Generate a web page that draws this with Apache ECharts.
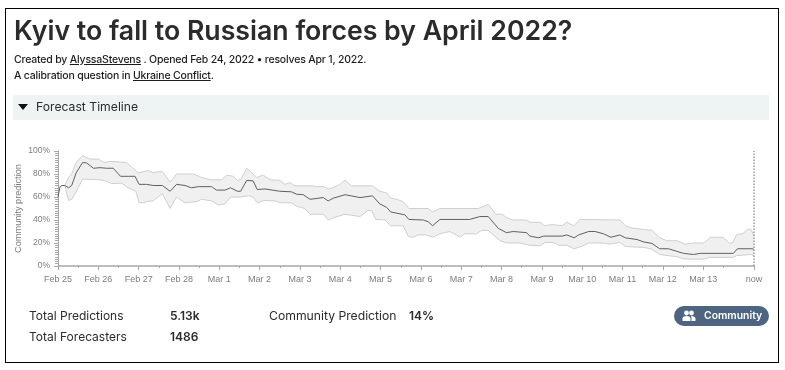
<!DOCTYPE html>
<html>
<head>
<meta charset="utf-8">
<script src="https://cdn.jsdelivr.net/npm/echarts@6/dist/echarts.min.js"></script>
<style>
html, body { margin: 0; padding: 0; background: #fff; }
body { width: 785px; height: 370px; overflow: hidden; position: relative; font-family: Inter, sans-serif; color: #2b2b2b; }
#frame { position: absolute; left: 5px; top: 8px; width: 772px; height: 353px; border: 1.5px solid #000; }
#chart-container { position: absolute; left: 0; top: 0; width: 785px; height: 370px; }
.t { position: absolute; white-space: nowrap; }
h1 { position: absolute; left: 14px; top: 13px; margin: 0; font-size: 26.7px; line-height: 34px; font-weight: 600; white-space: nowrap; }
#bar { position: absolute; left: 13px; top: 95px; width: 756px; height: 25px; background: #eef3f3; }
#tri { position: absolute; left: 18px; top: 104px; width: 0; height: 0; border-left: 5.5px solid transparent; border-right: 5.5px solid transparent; border-top: 6px solid #111; }
#pill { position: absolute; left: 674px; top: 306px; width: 95px; height: 20px; border-radius: 10px; background: #4d6580; color: #fff; font-size: 10.4px; font-weight: 600; line-height: 20px; }
</style>
</head>
<body>
<div id="frame"></div>
<div id="bar"></div>
<div id="tri"></div>
<div id="chart-container"></div>
<h1>Kyiv to fall to Russian forces by April 2022?</h1>
<div class="t" style="left:14px;top:53px;font-size:10.5px;font-weight:500;letter-spacing:-0.19px;color:#1c1c1c">Created by <u>AlyssaStevens</u> . Opened Feb 24, 2022 • resolves Apr 1, 2022.</div>
<div class="t" style="left:14px;top:69px;font-size:10.5px;font-weight:500;letter-spacing:-0.19px;color:#1c1c1c">A calibration question in <u>Ukraine Conflict</u>.</div>
<div class="t" style="left:36px;top:99px;font-size:12.2px">Forecast Timeline</div>
<div class="t" style="left:29px;top:308px;font-size:12px">Total Predictions</div>
<div class="t" style="left:170px;top:308px;font-size:12px;font-weight:600">5.13k</div>
<div class="t" style="left:29px;top:329px;font-size:12px">Total Forecasters</div>
<div class="t" style="left:170px;top:329px;font-size:12px;font-weight:600">1486</div>
<div class="t" style="left:269px;top:308px;font-size:12.2px">Community Prediction</div>
<div class="t" style="left:409px;top:308px;font-size:12px;font-weight:600">14%</div>
<div id="pill">
  <svg style="position:absolute;left:8px;top:4px" width="14" height="12" viewBox="0 0 14 12"><circle cx="4.5" cy="3" r="2.4" fill="#fff"/><circle cx="9.5" cy="3" r="2.4" fill="#fff"/><path d="M0.5 11V8.5C0.5 6.8 2.5 6 4.5 6S8.5 6.8 8.5 8.5V11Z" fill="#fff"/><path d="M9.5 11V8C9.5 7.2 9.2 6.6 8.8 6.1C11 5.9 13.5 6.8 13.5 8.5V11Z" fill="#fff"/></svg>
  <span style="position:absolute;left:30px;top:0">Community</span>
</div>
<script>
// days since Feb 25, value in percent
var tickLabels = ['Feb 25', 'Feb 26', 'Feb 27', 'Feb 28', 'Mar 1', 'Mar 2', 'Mar 3', 'Mar 4', 'Mar 5', 'Mar 6', 'Mar 7', 'Mar 8', 'Mar 9', 'Mar 10', 'Mar 11', 'Mar 12', 'Mar 13'];
var nowDay = 17.26;

var median = [
  [0, 60], [0.05, 69], [0.10, 70], [0.17, 70], [0.26, 68], [0.34, 70], [0.45, 81], [0.61, 90], [0.71, 89.6], [0.88, 85],
  [1.04, 85.5], [1.21, 85], [1.37, 85], [1.55, 78], [1.74, 78], [1.91, 78], [2.01, 71], [2.20, 71], [2.36, 70], [2.59, 70],
  [2.78, 65], [2.94, 71], [3.15, 70], [3.31, 68], [3.48, 69], [3.81, 69], [3.93, 66], [4.14, 66], [4.28, 68], [4.45, 65],
  [4.53, 65], [4.68, 74.5], [4.84, 74], [4.94, 66.5], [5.13, 67], [5.50, 65], [5.79, 64.5], [5.92, 62.4], [6.08, 62], [6.25, 58],
  [6.58, 59.5], [6.70, 56.6], [6.83, 59], [7.12, 62], [7.49, 59.5], [7.80, 61], [7.98, 54], [8.15, 51], [8.25, 47], [8.60, 44.5],
  [8.70, 40.5], [9.06, 40], [9.18, 38.5], [9.29, 35], [9.47, 40.5], [10.21, 40.5], [10.46, 43], [10.67, 43], [10.92, 32.7], [11.12, 29],
  [11.29, 30], [11.62, 29], [11.70, 26], [11.92, 24.5], [12.04, 26], [12.50, 26], [12.62, 27], [12.80, 24.5], [12.91, 27], [13.16, 30],
  [13.32, 30], [13.53, 28], [13.71, 25], [13.93, 27], [14.07, 24.5], [14.36, 23], [14.52, 21], [14.73, 19.6], [14.92, 15], [15.14, 15],
  [15.51, 11], [15.76, 10], [15.93, 11], [16.75, 11], [16.85, 15], [17.21, 15], [17.26, 14.5]
];
var upper = [
  [0.17, 70], [0.26, 77], [0.34, 80], [0.45, 90], [0.61, 96], [0.79, 93], [1.0, 93], [1.14, 90], [1.29, 91], [1.70, 90],
  [1.99, 81], [2.24, 83], [2.36, 81], [2.49, 82], [2.59, 82], [2.78, 73], [2.94, 80], [3.36, 80], [3.52, 77.5], [3.77, 75],
  [4.06, 75], [4.18, 79], [4.35, 78], [4.45, 74.5], [4.53, 75], [4.68, 85], [4.93, 77], [5.09, 79], [5.26, 75], [5.50, 74.5],
  [5.63, 71], [5.75, 72.5], [5.88, 69.7], [6.29, 69.7], [6.41, 69], [6.58, 69], [6.73, 67], [6.95, 70], [7.12, 74.5], [7.28, 69.7],
  [7.80, 69.7], [7.98, 65], [8.15, 63.6], [8.25, 59], [8.40, 58], [8.56, 56], [8.70, 50], [9.18, 50], [9.29, 47], [9.47, 50],
  [10.42, 50], [10.67, 53.5], [10.86, 45], [11.02, 45], [11.12, 42], [11.29, 40], [11.62, 40], [11.70, 38], [11.96, 38], [12.06, 35],
  [12.25, 36], [12.50, 35], [12.62, 38], [12.79, 35], [12.95, 40.5], [13.94, 40], [14.07, 35], [14.23, 33], [14.73, 31], [14.92, 24.5],
  [15.10, 22], [15.35, 22], [15.55, 19], [15.76, 20], [16.03, 20], [16.17, 25], [16.49, 25], [16.65, 20], [16.73, 20], [16.83, 27.5],
  [16.98, 28], [17.10, 32], [17.18, 32], [17.26, 26.5]
];
var lower = [
  [0.17, 70], [0.26, 57], [0.34, 58], [0.45, 64.5], [0.61, 75.5], [1.04, 75], [1.17, 74], [1.33, 71.7], [1.58, 72], [1.74, 68],
  [1.93, 65], [2.01, 55], [2.12, 55], [2.20, 56], [2.36, 56.6], [2.59, 63], [2.78, 50], [2.94, 60], [3.15, 55], [3.44, 56],
  [3.56, 58], [3.81, 56.6], [3.98, 53], [4.14, 54], [4.28, 60], [4.51, 60], [4.72, 61], [4.84, 60], [4.94, 55], [5.13, 57],
  [5.38, 56.6], [5.50, 55], [5.79, 55], [5.92, 52], [6.12, 50], [6.25, 45], [6.58, 45], [6.70, 40], [6.83, 42], [7.12, 45],
  [7.49, 43], [7.69, 48.5], [7.78, 48], [7.88, 40.5], [8.11, 40], [8.25, 35], [8.56, 35], [8.69, 25.5], [8.79, 25], [8.93, 27],
  [9.14, 27], [9.29, 25], [9.47, 28], [9.72, 30], [9.97, 25], [10.09, 28], [10.38, 28], [10.50, 31], [10.67, 31], [10.96, 22],
  [11.12, 20], [11.45, 20], [11.70, 18], [11.96, 17.6], [12.08, 20.5], [12.29, 20.5], [12.41, 18], [12.62, 18], [12.80, 15], [12.99, 17],
  [13.16, 20], [13.49, 20], [13.69, 19], [13.93, 20.5], [14.07, 17], [14.56, 16], [14.73, 14.5], [14.92, 10], [15.35, 8], [15.55, 6],
  [16.03, 6], [16.17, 7.5], [16.73, 7.5], [16.83, 9], [17.17, 10], [17.26, 9]
];

var majorTicks = tickLabels.map(function (l, i) { return i; }).concat([nowDay]);
var halfTicks = tickLabels.map(function (l, i) { return i + 0.5; });
var band = upper.concat(lower.slice().reverse());

var dom = document.getElementById('chart-container');
var myChart = echarts.init(dom, null, { renderer: 'canvas' });

var axisGray = '#a8a8a8';
var textGray = '#7d7d7d';

var option = {
  animation: false,
  grid: { left: 58, right: 31, top: 151, bottom: 104 },
  xAxis: [{
    type: 'value',
    min: 0,
    max: nowDay,
    splitLine: { show: false },
    axisLine: { lineStyle: { color: axisGray, width: 1.5 } },
    axisTick: { customValues: majorTicks, length: 4, lineStyle: { color: axisGray } },
    axisLabel: {
      customValues: majorTicks,
      color: textGray,
      fontSize: 9,
      margin: 9,
      hideOverlap: false,
      showMinLabel: true,
      showMaxLabel: true,
      formatter: function (v) { return v === nowDay ? 'now' : tickLabels[v]; }
    }
  }, {
    type: 'value',
    position: 'bottom',
    min: 0,
    max: nowDay,
    splitLine: { show: false },
    axisLine: { show: false },
    axisTick: { customValues: halfTicks, length: 2, lineStyle: { color: axisGray } },
    axisLabel: { show: false }
  }],
  yAxis: {
    type: 'value',
    min: 0,
    max: 100,
    interval: 20,
    name: 'Community prediction',
    nameLocation: 'middle',
    nameGap: 35,
    nameMoveOverlap: false,
    nameTextStyle: { color: textGray, fontSize: 9.2 },
    splitLine: { show: false },
    axisLine: { show: true, lineStyle: { color: axisGray, width: 1 } },
    axisTick: { show: true, length: 4, lineStyle: { color: axisGray } },
    minorTick: { show: true, splitNumber: 10, length: 3, lineStyle: { color: axisGray } },
    axisLabel: { color: textGray, fontSize: 8.5, margin: 8, formatter: '{value}%' }
  },
  series: [{
    type: 'custom',
    silent: true,
    data: [0],
    encode: { x: [], y: [] },
    renderItem: function (params, api) {
      return {
        type: 'polygon',
        shape: { points: band.map(function (p) { return api.coord(p); }) },
        style: { fill: '#f0f0f0' }
      };
    },
    z: 1
  }, {
    type: 'line',
    data: upper,
    symbol: 'none',
    lineStyle: { color: '#cfcfcf', width: 1 },
    z: 2
  }, {
    type: 'line',
    data: lower,
    symbol: 'none',
    lineStyle: { color: '#cfcfcf', width: 1 },
    z: 2
  }, {
    type: 'line',
    data: median,
    symbol: 'none',
    lineStyle: { color: '#606060', width: 1 },
    z: 3,
    markLine: {
      silent: true,
      symbol: 'none',
      label: { show: false },
      lineStyle: { color: '#999', type: 'dotted', width: 1.5 },
      data: [{ xAxis: nowDay }]
    }
  }]
};

myChart.setOption(option);
window.addEventListener('resize', myChart.resize);
</script>
</body>
</html>
